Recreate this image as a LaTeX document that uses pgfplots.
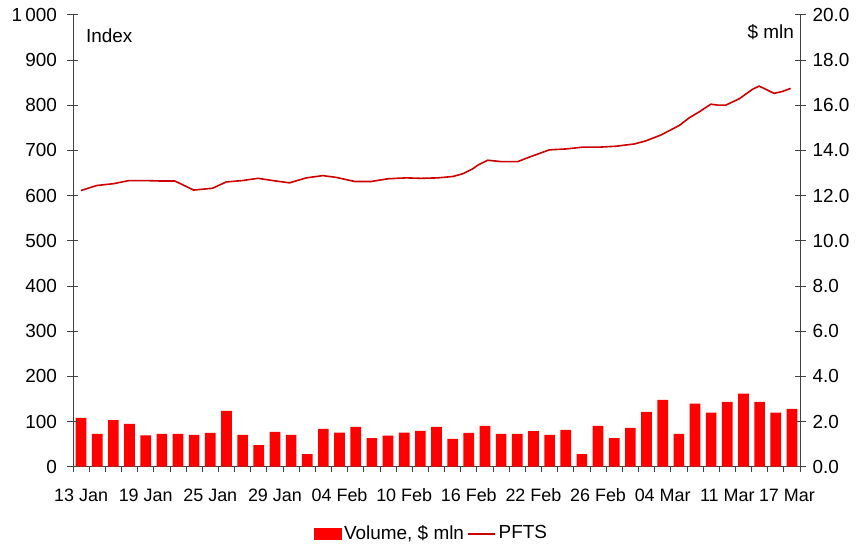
\documentclass[border=0pt]{standalone}
\usepackage{fontspec}
\setmainfont{Liberation Sans}
\usepackage{pgfplots}
\pgfplotsset{compat=1.18}
\definecolor{barred}{RGB}{255,0,0}
\definecolor{linered}{RGB}{204,0,0}
\definecolor{axgray}{RGB}{64,64,64}
\newcommand{\chartfont}{\fontsize{19}{22}\selectfont}
\newcommand{\xfont}{\fontsize{18}{21}\selectfont}
\pgfplotsset{
  barlegend/.style={legend image code/.code={\fill[barred] (0bp,-5.5bp) rectangle (27bp,5.5bp);}},
  linelegend/.style={legend image code/.code={\draw[linered, line width=1.6bp] (0bp,0bp) -- (27bp,0bp);}},
}
\begin{document}
\chartfont
\begin{tikzpicture}
\pgfplotsset{
  common/.style={
    scale only axis, width=727bp, height=452bp,
    xmin=-0.5, xmax=44.5,
    ymin=0,
    /pgf/number format/assume math mode=true,
    tick label style={font=\chartfont, black},
    axis line style={axgray, line width=0.8pt, -},
    tick style={axgray, line width=0.8pt},
    tick align=center,
    major tick length=11bp,
  }
}
\begin{axis}[common, name=bars,
  ymax=20, ytick={0,2,...,20},
  axis y line*=right, axis x line*=bottom,
  yticklabel style={/pgf/number format/fixed, /pgf/number format/fixed zerofill, /pgf/number format/precision=1, xshift=0.5bp},
  xtick={0,4,...,44},
  xticklabels={13 Jan,19 Jan,25 Jan,29 Jan,04 Feb,10 Feb,16 Feb,22 Feb,26 Feb,04 Mar,11 Mar,{\hspace*{-10bp}17 Mar}},
  major x tick style={draw=none},
  minor xtick={-0.5,0.5,...,44.5},
  minor tick length=5bp,
  minor x tick style={yshift=-2.5bp},
  xticklabel style={yshift=-10bp, font=\xfont},
]
\addplot[ybar, bar width=0.66, fill=barred, draw=none] coordinates {
(0,2.16) (1,1.45) (2,2.06) (3,1.90) (4,1.39) (5,1.45) (6,1.45) (7,1.41) (8,1.50) (9,2.47)
(10,1.41) (11,0.96) (12,1.54) (13,1.41) (14,0.56) (15,1.67) (16,1.51) (17,1.76) (18,1.26) (19,1.38)
(20,1.51) (21,1.59) (22,1.76) (23,1.23) (24,1.50) (25,1.81) (26,1.45) (27,1.45) (28,1.57) (29,1.41)
(30,1.63) (31,0.56) (32,1.81) (33,1.26) (34,1.72) (35,2.43) (36,2.96) (37,1.45) (38,2.79) (39,2.39)
(40,2.87) (41,3.23) (42,2.87) (43,2.39) (44,2.56)
};
\node[anchor=base east, inner sep=0pt] at (rel axis cs:0.9918,0.9478) {\$ mln};
\end{axis}
\begin{axis}[common,
  ymax=1000, ytick={0,100,...,1000},
  axis y line*=left, axis x line=none, xtick=\empty,
  yticklabel style={/pgf/number format/1000 sep={\,}, xshift=-4bp},
  legend columns=2,
  legend style={at={(rel axis cs:0.3315,0)}, anchor=west, yshift=-67bp, draw=none, fill=none,
    inner xsep=0pt, inner ysep=0pt,
    font=\chartfont,
    nodes={inner xsep=2.5bp},
    /tikz/every even column/.append style={column sep=1bp}},
]
\addlegendimage{barlegend}
\addlegendentry{Volume, \$ mln}
\addplot[linered, line width=1.6bp, linelegend] coordinates {
(0,611) (0.95,622) (1.98,626) (2.97,633) (4.0,633) (4.99,632) (5.81,632) (6.97,612) (8.13,616) (8.99,630)
(9.98,633) (10.95,638) (11.87,633) (12.9,628) (13.94,639) (14.97,644) (15.8,640) (16.94,631) (17.96,631)
(18.99,637) (20.12,639) (21.05,638) (22.08,639) (23.0,642) (23.62,648) (24.24,659) (24.55,667) (25.17,678)
(26.0,675) (27.03,675) (27.75,685) (28.06,689) (28.99,701) (30.02,703) (31.05,707) (32.08,707) (33.11,709)
(34.24,714) (34.97,721) (35.9,734) (37.03,755) (37.65,772) (38.26,785) (38.98,802) (39.39,800) (39.91,800)
(40.74,814) (41.56,835) (41.97,842) (42.38,835) (42.89,826) (43.4,830) (43.92,837)
};
\addlegendentry{PFTS}
\node[anchor=base west, inner sep=0pt] at (rel axis cs:0.0178,0.9383) {Index};
\end{axis}
\path (bars.south west) ++(-73bp,-75.3bp) rectangle ++(860bp,542bp);
\end{tikzpicture}
\end{document}
